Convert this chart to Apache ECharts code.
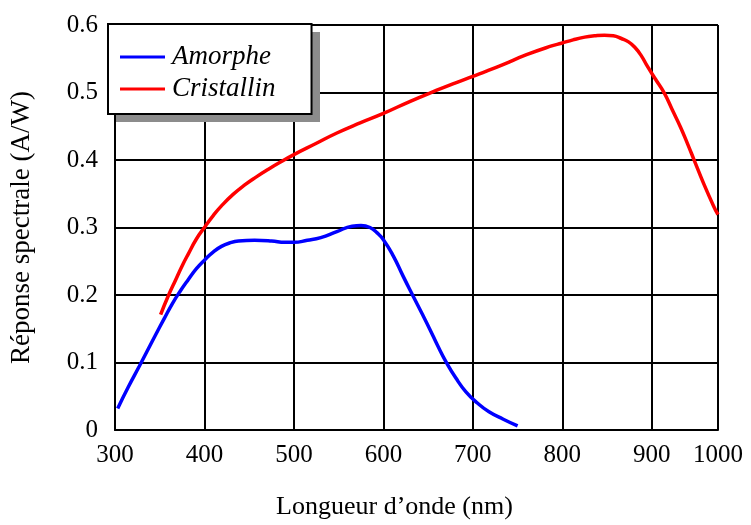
<!DOCTYPE html>
<html>
<head>
<meta charset="utf-8">
<script src="https://cdn.jsdelivr.net/npm/echarts@6/dist/echarts.min.js"></script>
<style>
  html, body { margin: 0; padding: 0; background: #fff; }
  #chart { width: 751px; height: 525px; }
</style>
</head>
<body>
<div id="chart"></div>
<script>
// wavelength (nm) / response (A/W)
const amorpheX = [303, 315, 327, 336, 345, 355, 364, 373, 382, 391, 401, 410, 419, 428, 438, 456, 475, 490, 500, 515, 530, 548, 565, 575, 585, 593, 600, 611, 622, 633, 643, 652, 661, 670, 681, 692, 705, 718, 734, 750];
const amorpheY = [0.032, 0.064, 0.094, 0.117, 0.140, 0.165, 0.187, 0.206, 0.223, 0.239, 0.253, 0.264, 0.272, 0.277, 0.280, 0.281, 0.280, 0.278, 0.278, 0.281, 0.285, 0.294, 0.302, 0.303, 0.300, 0.292, 0.282, 0.258, 0.228, 0.199, 0.173, 0.149, 0.124, 0.101, 0.077, 0.057, 0.040, 0.027, 0.016, 0.006];

const cristallinX = [351, 359, 368, 375, 382, 391, 401, 410, 419, 432, 445, 458, 471, 485, 500, 524, 548, 574, 600, 630, 659, 680, 700, 716, 733, 760, 788, 799, 812, 825, 836, 847, 857, 866, 874, 881, 888, 895, 904, 914, 923, 932, 940, 947, 958, 969, 974];
const cristallinY = [0.171, 0.197, 0.223, 0.243, 0.261, 0.283, 0.302, 0.318, 0.332, 0.349, 0.363, 0.375, 0.386, 0.397, 0.408, 0.424, 0.440, 0.455, 0.469, 0.487, 0.503, 0.514, 0.524, 0.532, 0.541, 0.556, 0.569, 0.573, 0.578, 0.582, 0.584, 0.585, 0.584, 0.580, 0.575, 0.567, 0.555, 0.539, 0.520, 0.499, 0.474, 0.449, 0.424, 0.401, 0.365, 0.332, 0.319];

// the last column of the original plot is narrower: its right edge is labelled 1000
const xMin = 300;
const xMax = 974;
const xEdgeLabel = '1000';

const font = 'Liberation Serif, Times New Roman, serif';

const myChart = echarts.init(document.getElementById('chart'));

const pairs = (xs, ys) => xs.map((x, i) => [x, ys[i]]);

const option = {
  animation: false,
  backgroundColor: '#fff',
  grid: { left: 109, right: 33, top: 25, bottom: 94 },
  // gray drop shadow behind the legend box
  graphic: [
    {
      type: 'rect',
      left: 116,
      top: 32,
      z: 3,
      shape: { width: 204, height: 90 },
      style: { fill: '#8c8c8c' },
    },
  ],
  legend: {
    orient: 'vertical',
    left: 108,
    top: 24,
    z: 5,
    padding: [17, 36, 9, 12],
    itemGap: 0,
    itemWidth: 45,
    itemHeight: 3,
    icon: 'rect',
    backgroundColor: '#fff',
    borderColor: '#000',
    borderWidth: 2,
    borderRadius: 0,
    textStyle: {
      fontFamily: font,
      fontStyle: 'italic',
      fontSize: 27,
      color: '#000',
      lineHeight: 32,
      padding: [0, 0, 0, 2],
    },
    data: ['Amorphe', 'Cristallin'],
  },
  xAxis: {
    type: 'value',
    min: xMin,
    max: xMax,
    interval: 100,
    name: 'Longueur d\u2019onde (nm)',
    nameLocation: 'middle',
    nameGap: 64,
    nameTextStyle: { fontFamily: font, fontSize: 26, color: '#000', padding: [0, 44, 0, 0] },
    axisLine: { lineStyle: { color: '#000', width: 2 } },
    axisTick: { show: false },
    axisLabel: {
      fontFamily: font,
      fontSize: 25,
      color: '#000',
      margin: 13,
      formatter: (v) => (v === xMax ? xEdgeLabel : String(v)),
    },
    splitLine: { show: true, lineStyle: { color: '#000', width: 2 } },
  },
  yAxis: {
    type: 'value',
    min: 0,
    max: 0.6,
    interval: 0.1,
    name: 'Réponse spectrale (A/W)',
    nameLocation: 'middle',
    nameGap: 80,
    nameTextStyle: { fontFamily: font, fontSize: 27, color: '#000' },
    axisLine: { show: true, lineStyle: { color: '#000', width: 2 } },
    axisTick: { show: false },
    axisLabel: {
      fontFamily: font,
      fontSize: 25,
      color: '#000',
      margin: 17,
      formatter: (v) => (v === 0 ? '0' : v.toFixed(1)),
    },
    splitLine: { show: true, lineStyle: { color: '#000', width: 2 } },
  },
  series: [
    {
      name: 'Amorphe',
      type: 'line',
      smooth: 0.5,
      showSymbol: false,
      color: '#0000ff',
      lineStyle: { width: 3.5, color: '#0000ff' },
      data: pairs(amorpheX, amorpheY),
      z: 3,
    },
    {
      name: 'Cristallin',
      type: 'line',
      smooth: 0.5,
      showSymbol: false,
      color: '#ff0000',
      lineStyle: { width: 3.5, color: '#ff0000' },
      data: pairs(cristallinX, cristallinY),
      z: 3,
    },
  ],
};

myChart.setOption(option);
</script>
</body>
</html>
